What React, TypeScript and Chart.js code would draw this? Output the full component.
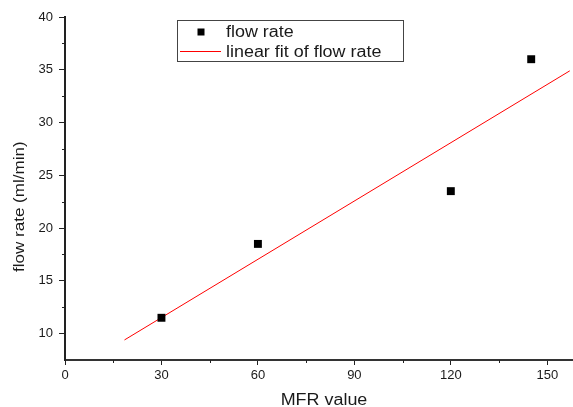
import React, { useEffect, useRef } from "react";
import { Chart, registerables } from "chart.js";

Chart.register(...registerables);

// ---- data ----
const mfrValues = [30, 60, 120, 145];
const flowRates = [11.5, 18.5, 23.5, 36];
const fitMfr = [18.5, 157];
const fitFlow = [9.4, 34.9];
const xTickValues = [0, 30, 60, 90, 120, 150];
const yTickValues = [10, 15, 20, 25, 30, 35, 40];
const xMinorTickValues = [15, 45, 75, 105, 135];
const yMinorTickValues = [12.5, 17.5, 22.5, 27.5, 32.5, 37.5];
const xRange = [0, 158];
const yRange = [7.5, 40];
const xAxisTitle = "MFR value";
const yAxisTitle = "flow rate (ml/min)";
const seriesName = "flow rate";
const fitName = "linear fit of flow rate";

const FONT = "'Liberation Sans', Arial, Helvetica, sans-serif";
const INK = "#1a1a1a";

function stretchedText(
  ctx: CanvasRenderingContext2D,
  text: string,
  x: number,
  y: number,
  k: number,
  align: CanvasTextAlign,
  size: number,
  rotate = 0
) {
  ctx.save();
  ctx.translate(x, y);
  if (rotate) ctx.rotate(rotate);
  ctx.scale(k, 1);
  ctx.font = `${size}px ${FONT}`;
  ctx.textAlign = align;
  ctx.textBaseline = "alphabetic";
  ctx.fillStyle = INK;
  ctx.fillText(text, 0, 0);
  ctx.restore();
}

const decorPlugin = {
  id: "decor",
  afterDraw(chart: any) {
    const ctx: CanvasRenderingContext2D = chart.ctx;
    const xs = chart.scales.x;
    const ys = chart.scales.y;
    ctx.save();
    // minor ticks
    ctx.strokeStyle = "#222";
    ctx.lineWidth = 1;
    ctx.beginPath();
    xMinorTickValues.forEach((v) => {
      const px = Math.round(xs.getPixelForValue(v)) + 0.5;
      ctx.moveTo(px, xs.top);
      ctx.lineTo(px, xs.top + 3);
    });
    yMinorTickValues.forEach((v) => {
      const py = Math.round(ys.getPixelForValue(v)) + 0.5;
      ctx.moveTo(ys.right, py);
      ctx.lineTo(ys.right - 3, py);
    });
    ctx.stroke();

    // axis titles
    stretchedText(ctx, xAxisTitle, 324, 404.5, 1.12, "center", 16);
    stretchedText(ctx, yAxisTitle, 23.7, 206.7, 1.1, "center", 15.5, -Math.PI / 2);

    // legend
    const lx = 177.5, ly = 20.5, lw = 226, lh = 41;
    ctx.fillStyle = "#fff";
    ctx.fillRect(lx, ly, lw, lh);
    ctx.strokeStyle = "#444";
    ctx.lineWidth = 1;
    ctx.strokeRect(lx, ly, lw, lh);
    ctx.fillStyle = "#000";
    ctx.fillRect(197.5, 28.5, 7, 7);
    ctx.strokeStyle = "#ff0000";
    ctx.beginPath();
    ctx.moveTo(180, 51.5);
    ctx.lineTo(221, 51.5);
    ctx.stroke();
    stretchedText(ctx, seriesName, 226, 36.5, 1.12, "left", 16);
    stretchedText(ctx, fitName, 226, 57.2, 1.12, "left", 16);
    ctx.restore();
  },
};

export default function App() {
  const ref = useRef<HTMLCanvasElement>(null);
  useEffect(() => {
    const chart = new Chart(ref.current as HTMLCanvasElement, {
      type: "scatter",
      data: {
        datasets: [
          {
            label: seriesName,
            data: mfrValues.map((x, i) => ({ x, y: flowRates[i] })),
            pointStyle: "rect",
            pointRadius: 5.6,
            pointHoverRadius: 5.6,
            backgroundColor: "#000",
            borderWidth: 0,
            showLine: false,
          },
          {
            label: fitName,
            data: fitMfr.map((x, i) => ({ x, y: fitFlow[i] })),
            showLine: true,
            pointRadius: 0,
            borderColor: "#ff0000",
            borderWidth: 1,
            backgroundColor: "#ff0000",
          },
        ],
      },
      options: {
        animation: false,
        responsive: false,
        events: [],
        layout: {
          autoPadding: false,
          padding: { top: 17, left: 0, right: 0, bottom: 0 },
        },
        plugins: {
          legend: { display: false },
          tooltip: { enabled: false },
          title: { display: false },
        },
        scales: {
          x: {
            type: "linear",
            min: xRange[0],
            max: xRange[1],
            afterBuildTicks: (scale: any) => {
              scale.ticks = xTickValues.map((v) => ({ value: v }));
            },
            afterFit: (scale: any) => {
              scale.height = 47;
              scale.paddingLeft = 0;
              scale.paddingRight = 0;
            },
            grid: {
              drawOnChartArea: false,
              drawTicks: true,
              tickLength: 5,
              tickWidth: 1,
              tickColor: "#222",
            },
            border: { display: true, color: "#333", width: 2 },
            ticks: {
              font: { family: FONT, size: 13 },
              color: INK,
              padding: 3,
              maxRotation: 0,
              autoSkip: false,
              callback: (v: any) => String(v),
            },
            title: { display: false },
          },
          y: {
            type: "linear",
            min: yRange[0],
            max: yRange[1],
            afterBuildTicks: (scale: any) => {
              scale.ticks = yTickValues.map((v) => ({ value: v }));
            },
            afterFit: (scale: any) => {
              scale.width = 65;
              scale.paddingTop = 0;
              scale.paddingBottom = 0;
            },
            grid: {
              drawOnChartArea: false,
              drawTicks: true,
              tickLength: 6,
              tickWidth: 1,
              tickColor: "#222",
            },
            border: { display: true, color: "#222", width: 2 },
            ticks: {
              font: { family: FONT, size: 13 },
              color: INK,
              padding: 6,
              autoSkip: false,
              callback: (v: any) => String(v),
            },
            title: { display: false },
          },
        },
      },
      plugins: [decorPlugin],
    } as any);
    return () => chart.destroy();
  }, []);
  return (
    <div
      style={{
        position: "absolute",
        left: 0,
        top: 0,
        width: 573,
        height: 407,
        background: "#fff",
      }}
    >
      <canvas ref={ref} width={573} height={407} style={{ display: "block" }} />
    </div>
  );
}
